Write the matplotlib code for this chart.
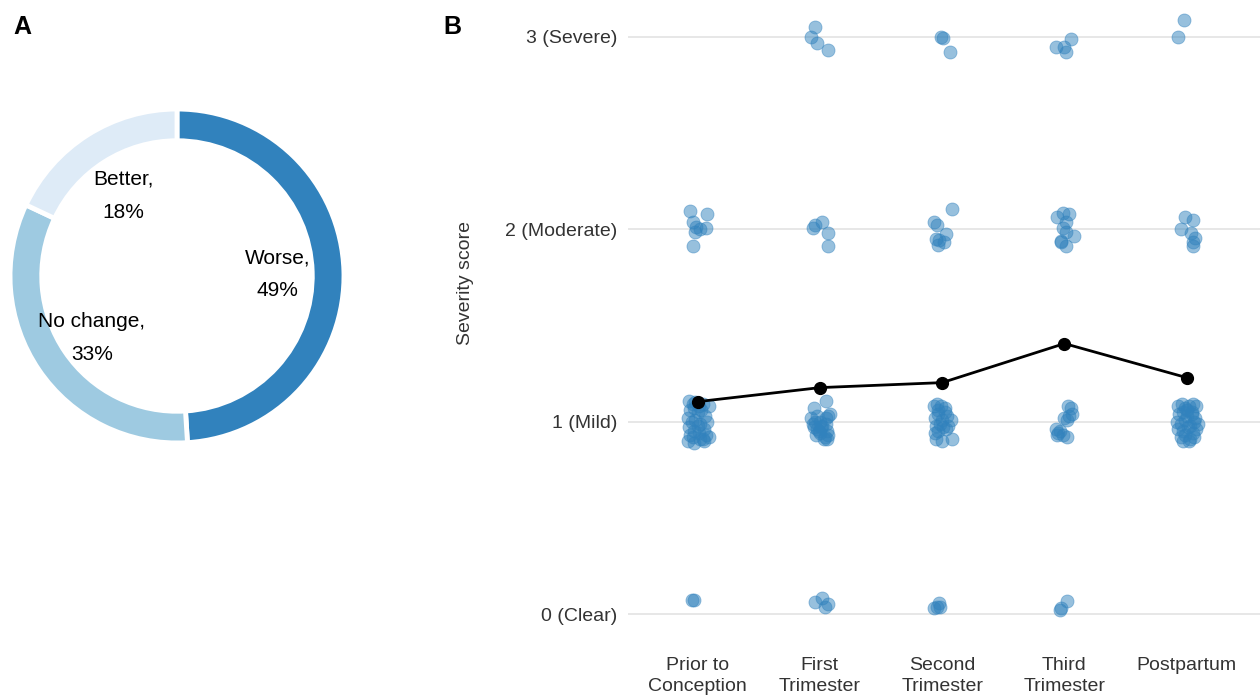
import matplotlib
matplotlib.use("Agg")
import matplotlib.pyplot as plt
import numpy as np

plt.rcParams['font.family'] = ['Liberation Sans', 'DejaVu Sans']

# panel A: change in severity during pregnancy
change_labels = ["Worse", "No change", "Better"]
change_pct = [49, 33, 18]
change_colors = ["#3182bd", "#9ecae1", "#deebf7"]

# panel B: severity by period
periods = ["Prior to\nConception", "First\nTrimester", "Second\nTrimester",
           "Third\nTrimester", "Postpartum"]
score_ticks = [0, 1, 2, 3]
score_labels = ["0 (Clear)", "1 (Mild)", "2 (Moderate)", "3 (Severe)"]
mean_score = [1.104, 1.177, 1.203, 1.406, 1.229]

# jittered individual scores per period (x offset, y value)
prior_dx = [-0.05, -0.03,
            -0.065, -0.04, -0.01, 0.015, 0.075, 0.065, -0.025, -0.04,
            -0.07, -0.04, -0.02, 0.01, 0.04, -0.06, -0.03, 0.0, 0.03, 0.09,
            -0.08, -0.05, -0.02, 0.02, 0.06, -0.07, -0.03, 0.0, 0.05, 0.08,
            -0.06, -0.04, 0.01, 0.04, 0.07, -0.08, -0.03, 0.02, 0.05, 0.09]
prior_y = [0.073, 0.073,
           2.094, 2.036, 2.01, 2.0, 2.078, 2.005, 1.985, 1.914,
           1.11, 1.09, 1.10, 1.08, 1.09, 1.06, 1.07, 1.05, 1.06, 1.08,
           1.02, 1.00, 1.01, 0.99, 1.03, 0.97, 0.95, 0.98, 0.96, 1.00,
           0.93, 0.92, 0.94, 0.91, 0.93, 0.90, 0.89, 0.91, 0.90, 0.92]

first_dx = [-0.04, 0.02, 0.07, 0.04,
            -0.04, -0.07, -0.02, 0.07,
            -0.06, -0.04, 0.02, 0.07, 0.065,
            -0.05, 0.05, -0.07, -0.02, 0.07, -0.06, 0.0, 0.05, 0.08,
            -0.05, -0.02, 0.02, 0.06, -0.03, 0.0, 0.04, 0.07, -0.01, 0.03,
            0.06, -0.04, 0.01, 0.05]
first_y = [0.062, 0.083, 0.052, 0.036,
           3.05, 3.0, 2.97, 2.93,
           2.005, 2.02, 2.04, 1.98, 1.914,
           1.07, 1.11, 1.02, 1.03, 1.03, 0.99, 1.0, 1.02, 1.04,
           0.97, 0.96, 0.98, 0.95, 0.93, 0.94, 0.92, 0.93, 0.95, 0.91,
           0.91, 1.0, 0.97, 0.99]

second_dx = [-0.065, -0.04, -0.025, -0.015,
             -0.01, 0.01, 0.06,
             -0.065, -0.04, -0.05, -0.025, -0.03, 0.035, 0.08, 0.015,
             -0.07, -0.04, -0.01, 0.02, -0.06, -0.03, 0.0, 0.04, 0.07,
             -0.05, -0.02, 0.01, 0.05, -0.06, -0.03, 0.03, -0.05, 0.0, 0.08,
             -0.03, 0.02]
second_y = [0.03, 0.036, 0.057, 0.036,
            3.0, 2.995, 2.92,
            2.04, 2.02, 1.95, 1.945, 1.92, 1.975, 2.105, 1.935,
            1.08, 1.09, 1.08, 1.07, 1.02, 1.04, 1.01, 1.03, 1.01,
            0.98, 0.99, 0.97, 0.98, 0.94, 0.95, 0.96, 0.91, 0.90, 0.91,
            1.06, 1.05]

third_dx = [-0.04, -0.025, 0.025,
            -0.065, 0.0, 0.01, 0.05,
            -0.06, -0.015, -0.015, -0.025, 0.01, 0.04, 0.01, 0.075, -0.03, 0.015,
            0.03, 0.05, 0.06, 0.04, 0.02, -0.07, -0.05, -0.04, -0.01, 0.02,
            -0.06, 0.0]
third_y = [0.02, 0.03, 0.067,
           2.95, 2.95, 2.92, 2.99,
           2.065, 2.085, 2.005, 1.935, 1.914, 2.08, 1.985, 1.965, 1.94, 2.04,
           1.08, 1.07, 1.04, 1.03, 1.01, 0.96, 0.94, 0.95, 0.93, 0.92,
           0.93, 1.02]

post_dx = [-0.07, -0.02,
           -0.015, 0.05, -0.05, 0.035, 0.05, 0.065, 0.05,
           -0.07, -0.04, -0.01, 0.02, 0.05, 0.08, -0.06, -0.03, 0.0, 0.04,
           0.07, -0.08, -0.05, -0.01, 0.03, 0.06, 0.09, -0.07, -0.03, 0.01,
           0.05, 0.08, -0.05, -0.01, 0.03, 0.06, -0.03, 0.02, 0.0, 0.04]
post_y = [3.0, 3.09,
          2.065, 2.05, 2.0, 1.98, 1.935, 1.955, 1.914,
          1.08, 1.09, 1.07, 1.08, 1.09, 1.08, 1.04, 1.05, 1.03, 1.04,
          1.02, 1.00, 0.99, 1.01, 0.98, 1.00, 0.99, 0.96, 0.95, 0.97,
          0.94, 0.96, 0.92, 0.93, 0.91, 0.92, 0.90, 0.90, 1.06, 1.05]

group_dx = [prior_dx, first_dx, second_dx, third_dx, post_dx]
group_y = [prior_y, first_y, second_y, third_y, post_y]

fig = plt.figure(figsize=(12.6, 6.98), dpi=100)

# ---- Panel A: donut
ax_a = fig.add_axes([0.0, (698 - 276 - 177) / 698, 354 / 1260, 354 / 698])
ax_a.pie(change_pct, colors=change_colors, startangle=90, counterclock=False,
         wedgeprops=dict(width=0.19, edgecolor="white", linewidth=3.5))
ax_a.set_xlim(-1.06, 1.06)
ax_a.set_ylim(-1.06, 1.06)
ax_a.set_aspect("equal")
ax_a.axis("off")
label_pos = [(0.60, 0.01), (-0.51, -0.37), (-0.32, 0.48)]
for lab, pct, (lx, ly) in zip(change_labels, change_pct, label_pos):
    ax_a.text(lx, ly, f"{lab},\n{pct}%", ha="center", va="center",
              fontsize=15, linespacing=1.95)

# ---- Panel B: strip plot with means
ax_b = fig.add_axes([628 / 1260, 53 / 698, 632 / 1260, 640 / 698])
for i, (dx, ys) in enumerate(zip(group_dx, group_y)):
    ax_b.scatter(i + np.array(dx), ys, s=88, color="#3182bd", alpha=0.5,
                 edgecolors="#3182bd", linewidths=0.6, zorder=3)
ax_b.plot(range(len(periods)), mean_score, color="black", lw=2, marker="o",
          markersize=8.5, zorder=4)
ax_b.set_xlim(-0.57, 4.6)
ax_b.set_ylim(-0.161, 3.166)
ax_b.set_xticks(range(len(periods)))
ax_b.set_xticklabels(periods, fontsize=14, linespacing=1.25, color="#333333")
ax_b.set_yticks(score_ticks)
ax_b.set_yticklabels(score_labels, fontsize=14, color="#333333")
ax_b.tick_params(length=0, pad=8)
ax_b.tick_params(axis="x", pad=9)
ax_b.yaxis.grid(True, color="#e3e3e3", lw=1.2)
ax_b.set_axisbelow(True)
for sp in ax_b.spines.values():
    sp.set_visible(False)
ax_b.set_ylabel("Severity score", fontsize=14, color="#333333")
ax_b.yaxis.set_label_coords(-0.244, 0.566)

fig.text(22 / 1260, 1 - 27 / 698, "A", fontsize=18, fontweight="bold",
         ha="center", va="center")
fig.text(452 / 1260, 1 - 27 / 698, "B", fontsize=18, fontweight="bold",
         ha="center", va="center")

fig.savefig("out.png", dpi=100)
